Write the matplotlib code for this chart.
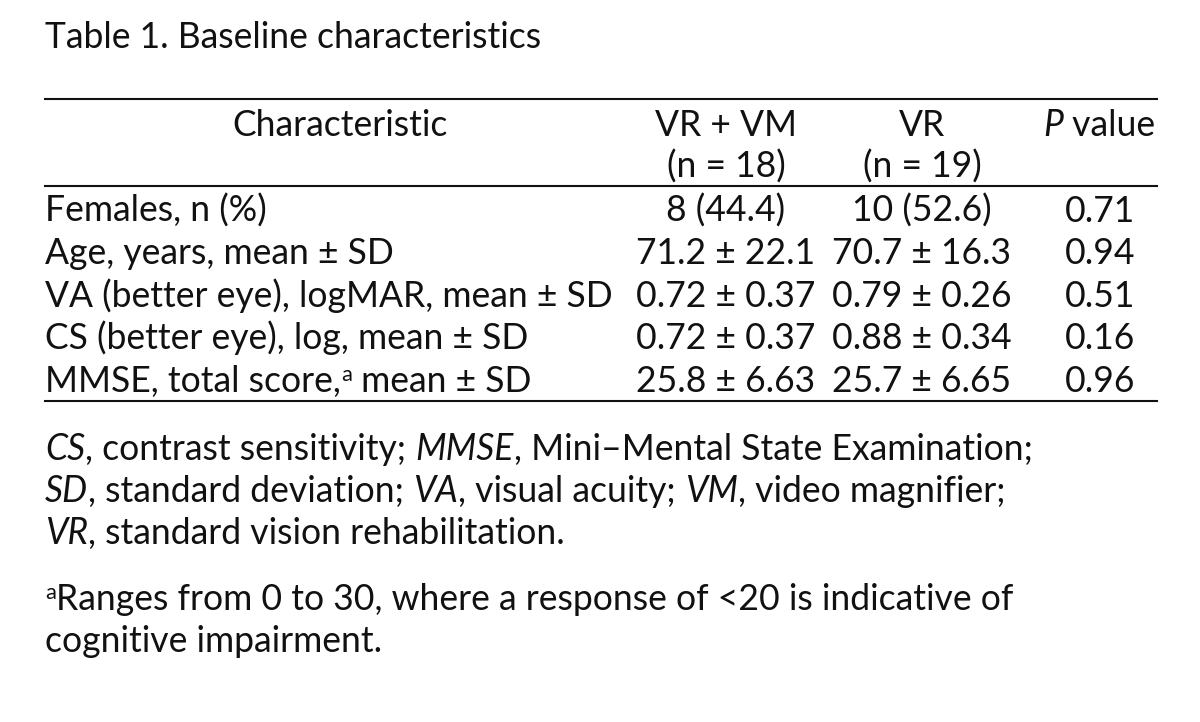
import matplotlib
matplotlib.use("Agg")
import matplotlib.pyplot as plt

plt.rcParams['font.family'] = ['Lato', 'DejaVu Sans']

# table content
title = "Table 1. Baseline characteristics"
col_groups = ["VR + VM", "VR"]
col_ns = ["(n = 18)", "(n = 19)"]
characteristics = [
    "Females, n (%)",
    "Age, years, mean ± SD",
    "VA (better eye), logMAR, mean ± SD",
    "CS (better eye), log, mean ± SD",
    "MMSE, total score,",
]
vr_vm = ["8 (44.4)", "71.2 ± 22.1", "0.72 ± 0.37", "0.72 ± 0.37", "25.8 ± 6.63"]
vr = ["10 (52.6)", "70.7 ± 16.3", "0.79 ± 0.26", "0.88 ± 0.34", "25.7 ± 6.65"]
p_values = ["0.71", "0.94", "0.51", "0.16", "0.96"]

abbrev_lines = [
    [("CS", "italic"), (", contrast sensitivity; ", "normal"), ("MMSE", "italic"),
     (", Mini\u2013Mental State Examination;", "normal")],
    [("SD", "italic"), (", standard deviation; ", "normal"), ("VA", "italic"),
     (", visual acuity; ", "normal"), ("VM", "italic"), (", video magnifier;", "normal")],
    [("VR", "italic"), (", standard vision rehabilitation.", "normal")],
]
footnote = ["Ranges from 0 to 30, where a response of <20 is indicative of",
            "cognitive impairment."]

FS = 25.6
INK = '#111111'
fig = plt.figure(figsize=(12, 7.22), dpi=100)
ax = fig.add_axes([0, 0, 1, 1])
ax.set_xlim(0, 1200)
ax.set_ylim(722, 0)
ax.axis('off')
renderer = fig.canvas.get_renderer()


def rich(x, y, parts, size=FS, ha='left'):
    # draw text pieces one after another, mixing italic and upright
    items = []
    cur = x
    for txt, style, *rise in parts:
        dy = rise[0] if rise else 0
        sz = size * 0.62 if dy else size
        t = ax.text(cur, y - dy, txt, fontsize=sz, style=style, va='baseline',
                    ha='left', color=INK)
        w = t.get_window_extent(renderer).width
        items.append(t)
        cur += w
    total = cur - x
    if ha == 'right':
        for t in items:
            t.set_x(t.get_position()[0] - total)
    return cur


ax.text(45, 48, title, fontsize=FS, va='baseline', color=INK)

# rules
lw = 1.5
for yy in [99, 186, 401]:
    ax.plot([45, 1157], [yy, yy], color=INK, lw=lw)

# header
col_x = [726, 922]
ax.text(340, 136, "Characteristic", fontsize=FS, ha='center', va='baseline', color=INK)
for cx, g, n in zip(col_x, col_groups, col_ns):
    ax.text(cx, 136, g, fontsize=FS, ha='center', va='baseline', color=INK)
    ax.text(cx, 178, n, fontsize=FS, ha='center', va='baseline', color=INK)
rich(1155, 136, [("P", "italic"), (" value", "normal")], ha='right')

# body rows
row_y = [222, 264, 307, 349, 392]
for i, y in enumerate(row_y):
    if i == len(row_y) - 1:
        rich(45, y, [(characteristics[i], "normal"), ("a", "normal", 11), (" mean ± SD", "normal")])
    else:
        ax.text(45, y, characteristics[i], fontsize=FS, va='baseline', color=INK)
    ax.text(col_x[0], y, vr_vm[i], fontsize=FS, ha='center', va='baseline', color=INK)
    ax.text(col_x[1], y, vr[i], fontsize=FS, ha='center', va='baseline', color=INK)
    ax.text(1135, y, p_values[i], fontsize=FS, ha='right', va='baseline', color=INK)

# notes
for parts, y in zip(abbrev_lines, [460, 502, 544]):
    rich(45, y, parts)
rich(45, 610, [("a", "normal", 11), (footnote[0], "normal")])
ax.text(45, 652, footnote[1], fontsize=FS, va='baseline', color=INK)

fig.savefig("out.png", dpi=100, facecolor='white')
